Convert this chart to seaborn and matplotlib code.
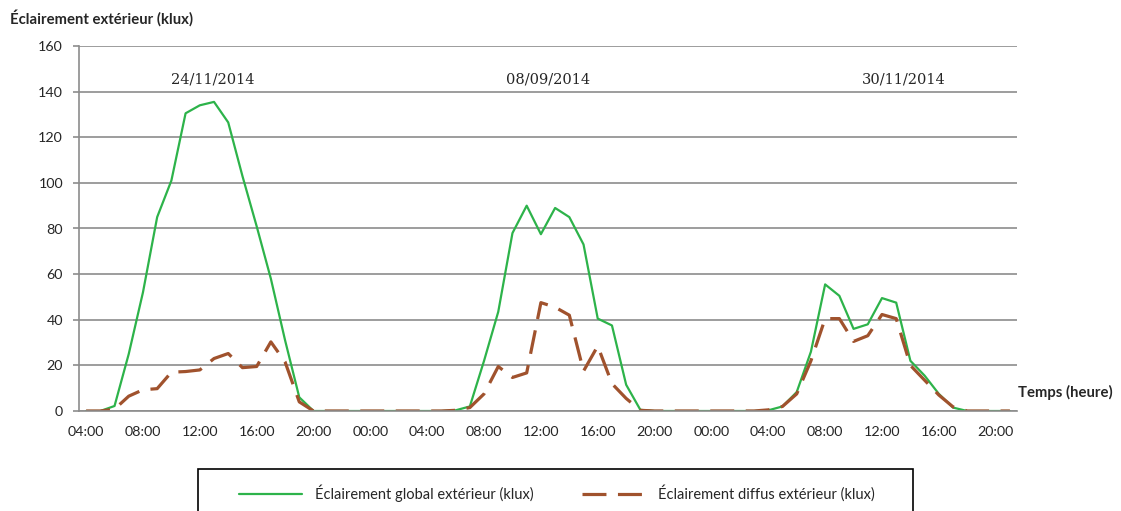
import numpy as np
import pandas as pd
import matplotlib
matplotlib.use("Agg")
import matplotlib.pyplot as plt
import seaborn as sns

# hourly values, 3 days put end to end (04:00 -> 21:00 on day 3)
global_klux = [0, 0, 2.2, 25, 52, 85, 101, 130.5, 134, 135.5, 126.5, 103, 81, 58, 31, 6,
               0, 0, 0, 0, 0, 0, 0, 0, 0, 0, 0.3, 2, 22, 43.5, 78, 90, 77.5, 89, 85, 73,
               40.5, 37.5, 11.5, 0.5, 0, 0, 0, 0, 0, 0, 0, 0, 0.3, 2, 8.3, 26, 55.5, 50.5,
               36, 38, 49.5, 47.5, 22, 15.5, 7.5, 1.5, 0, 0, 0, 0]
diffus_klux = [0, 0, 0.8, 6.5, 9.3, 9.8, 17, 17.3, 18, 23, 25.2, 19, 19.5, 30.3, 21.5, 4,
               0, 0, 0, 0, 0, 0, 0, 0, 0, 0, 0.3, 1.5, 7.5, 19.5, 14.7, 16.7, 47.5, 45.5, 42, 17.5,
               28.5, 12, 5.5, 0.3, 0, 0, 0, 0, 0, 0, 0, 0, 0.5, 2, 7.5, 22, 40.5, 40.5,
               30.5, 33, 42.3, 40.5, 20, 13.5, 7, 1.8, 0, 0, 0, 0]
tick_labels = ["04:00", "08:00", "12:00", "16:00", "20:00", "00:00", "04:00", "08:00", "12:00",
               "16:00", "20:00", "00:00", "04:00", "08:00", "12:00", "16:00", "20:00"]
dates = ["24/11/2014", "08/09/2014", "30/11/2014"]
date_pos = [8.9, 32.5, 57.5]

green = "#2db34a"
brown = "#a0522d"
grid_col = "#8c8c8c"

sns.set_style("white")
plt.rcParams['font.family'] = ['Lato', 'DejaVu Sans']

df = pd.DataFrame({"t": np.arange(len(global_klux)),
                   "global": global_klux, "diffus": diffus_klux})

fig = plt.figure(figsize=(11.21, 5.11), dpi=100)
ax = fig.add_axes([79 / 1121, 1 - 411 / 511, (1017 - 79) / 1121, (411 - 46) / 511])

sns.lineplot(data=df, x="t", y="global", ax=ax, color=green, linewidth=1.6,
             label="Éclairement global extérieur (klux)")
sns.lineplot(data=df, x="t", y="diffus", ax=ax, color=brown, linewidth=2.3,
             dashes=False, label="Éclairement diffus extérieur (klux)")
ax.lines[1].set_dashes([7.5, 3.6])

ax.set_xlim(-0.5, len(global_klux) - 0.5)
ax.set_ylim(0, 160)
ax.set_yticks(range(0, 161, 20))
ax.yaxis.grid(True, color=grid_col, linewidth=1.2)
ax.set_axisbelow(True)

ax.set_xticks(np.arange(0, len(global_klux), 4))
ax.set_xticklabels(tick_labels)
ax.set_xticks(np.arange(-0.5, len(global_klux) - 1, 4), minor=True)
ax.tick_params(axis="x", which="major", length=0, pad=11, labelsize=10.3)
ax.tick_params(axis="x", which="minor", length=4.5, width=1.2, color=grid_col, direction="out")
ax.tick_params(axis="y", which="major", length=4.5, width=1.2, color=grid_col, direction="out",
               pad=7, labelsize=10.3, left=True)

for s in ["top", "right"]:
    ax.spines[s].set_visible(False)
for s in ["left", "bottom"]:
    ax.spines[s].set_color(grid_col)
    ax.spines[s].set_linewidth(1.2)

ax.set_xlabel("")
ax.set_ylabel("")

for d, p in zip(dates, date_pos):
    ax.text(p, 145.5, d, ha="center", va="center", fontsize=10.5, family="DejaVu Serif")

fig.text(10 / 1121, 1 - 18 / 511, "Éclairement extérieur (klux)", fontsize=10.7,
         fontweight="bold", ha="left", va="center")
fig.text(1018 / 1121, 1 - 392 / 511, "Temps (heure)", fontsize=10.7,
         fontweight="bold", ha="left", va="center")

ax.get_legend().remove()
handles, labels = ax.get_legend_handles_labels()
fig.legend(handles, labels, loc="center", bbox_to_anchor=(557 / 1121, 1 - 493 / 511),
           ncol=2, frameon=False, fontsize=10.5, handlelength=4.3, handletextpad=0.9,
           columnspacing=3.3)
fig.patches.append(plt.Rectangle((198 / 1121, -0.05), (913 - 198) / 1121, 0.05 + 1 - 469 / 511,
                                 transform=fig.transFigure, fill=False, edgecolor="black",
                                 linewidth=1.2, clip_on=False))

fig.savefig("out.png", dpi=100)
